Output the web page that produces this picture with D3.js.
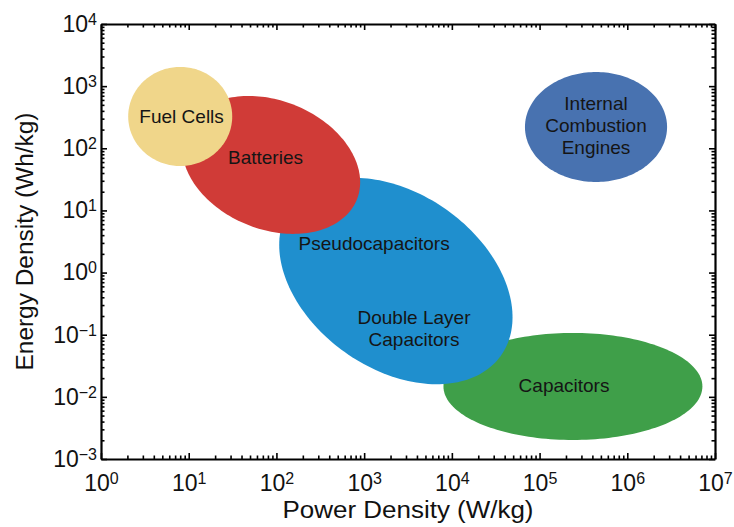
<!DOCTYPE html>
<html>
<head>
<meta charset="utf-8">
<script src="https://cdn.jsdelivr.net/npm/d3@7"></script>
<style>
  html, body { margin: 0; padding: 0; background: #fff; }
  svg { display: block; font-family: "Liberation Sans", Arial, Helvetica, sans-serif; }
</style>
</head>
<body>
<svg id="chart" width="734" height="527"></svg>
<script>
// Ragone plot: energy density vs power density of storage technologies (log–log)

// Axis decades
const powerDecades = [0, 1, 2, 3, 4, 5, 6, 7];      // 10^0 … 10^7 W/kg
const energyDecades = [-3, -2, -1, 0, 1, 2, 3, 4];  // 10^-3 … 10^4 Wh/kg

// Regions, drawn back to front
const regionNames = ["Capacitors", "Electrochemical Capacitors", "Batteries", "Fuel Cells", "Internal Combustion Engines"];
const regionPower = [2.4e5, 2.3e3, 87, 8, 4.4e5];        // centre, W/kg
const regionEnergy = [0.0147, 0.73, 54, 325, 220];       // centre, Wh/kg
const regionPowerSpan = [1.476, 1.33, 1.015, 0.593, 0.81];  // half-width, decades
const regionEnergySpan = [0.861, 1.66, 1.11, 0.797, 0.885]; // half-height, decades
const regionTilt = [0, -0.35, -0.25, 0, 0];              // power/energy correlation
const regionColors = ["#3f9f49", "#1f8fce", "#d03b37", "#f0d68a", "#4872b0"];

// Region labels
const labelLines = [["Fuel Cells"], ["Batteries"], ["Pseudocapacitors"], ["Double Layer", "Capacitors"], ["Capacitors"], ["Internal", "Combustion", "Engines"]];
const labelPower = [8.3, 75, 1300, 3700, 1.9e5, 4.4e5];
const labelEnergy = [332, 72, 3, 0.127, 0.0156, 238];

const svg = d3.select("#chart");
const W = 734, H = 527;
const m = { left: 101, right: 19, top: 24, bottom: 68 };
const x = d3.scaleLog().domain([1, 1e7]).range([m.left, W - m.right]);
const y = d3.scaleLog().domain([1e-3, 1e4]).range([H - m.bottom, m.top]);

// Regions as ellipses in log–log space
const steps = d3.range(0, 180);
const line = d3.line().curve(d3.curveLinearClosed);
regionNames.forEach((name, i) => {
  const lx = Math.log10(regionPower[i]), ly = Math.log10(regionEnergy[i]);
  const sx = regionPowerSpan[i], sy = regionEnergySpan[i], r = regionTilt[i];
  const pts = steps.map(k => {
    const t = k / steps.length * 2 * Math.PI;
    const px = lx + sx * Math.cos(t);
    const py = ly + sy * (r * Math.cos(t) + Math.sqrt(1 - r * r) * Math.sin(t));
    return [x(Math.pow(10, px)), y(Math.pow(10, py))];
  });
  svg.append("path")
    .attr("class", "region")
    .attr("d", line(pts))
    .attr("fill", regionColors[i]);
});

// Region labels
labelLines.forEach((lines, i) => {
  const cx = x(labelPower[i]), cy = y(labelEnergy[i]);
  const t = svg.append("text")
    .attr("text-anchor", "middle")
    .attr("font-size", 19)
    .attr("fill", "#151515");
  lines.forEach((s, j) => {
    t.append("tspan")
      .attr("x", cx)
      .attr("y", cy + (j - (lines.length - 1) / 2) * 22)
      .attr("dy", "0.36em")
      .text(s);
  });
});

// Axes: ticks on all four sides, pointing inward
const minor = decades => decades.slice(0, -1).flatMap(d => d3.range(2, 10).map(k => k * Math.pow(10, d)));
const major = decades => decades.map(d => Math.pow(10, d));

function styleAxis(g) {
  g.selectAll(".domain").attr("stroke", "#000").attr("stroke-width", 2.2);
  g.selectAll(".tick line").attr("stroke", "#000").attr("stroke-width", 1.6);
}

function power10(sel, decades) {
  sel.selectAll(".tick text").each(function (d, i) {
    const t = d3.select(this).text(null).attr("font-size", 23).attr("fill", "#111");
    const e = Math.round(Math.log10(d));
    t.append("tspan").text("10");
    t.append("tspan").attr("font-size", 16).attr("dy", -7).text(String(e).replace("-", "\u2212"));
  });
}

const xb = d3.axisBottom(x).tickValues(major(powerDecades)).tickSizeInner(-6).tickSizeOuter(0).tickPadding(16);
const gxb = svg.append("g").attr("transform", `translate(0,${H - m.bottom})`).call(xb);
gxb.call(power10);
gxb.append("g").call(d3.axisBottom(x).tickValues(minor(powerDecades)).tickSize(-3.5).tickFormat(""))
  .select(".domain").remove();

const gxt = svg.append("g").attr("transform", `translate(0,${m.top})`)
  .call(d3.axisTop(x).tickValues(major(powerDecades)).tickSizeInner(-6).tickSizeOuter(0).tickFormat(""));
gxt.append("g").call(d3.axisTop(x).tickValues(minor(powerDecades)).tickSize(-3.5).tickFormat(""))
  .select(".domain").remove();

const yl = d3.axisLeft(y).tickValues(major(energyDecades)).tickSizeInner(-6).tickSizeOuter(0).tickPadding(4);
const gyl = svg.append("g").attr("transform", `translate(${m.left},0)`).call(yl);
gyl.call(power10);
gyl.append("g").call(d3.axisLeft(y).tickValues(minor(energyDecades)).tickSize(-3.5).tickFormat(""))
  .select(".domain").remove();

const gyr = svg.append("g").attr("transform", `translate(${W - m.right},0)`)
  .call(d3.axisRight(y).tickValues(major(energyDecades)).tickSizeInner(-6).tickSizeOuter(0).tickFormat(""));
gyr.append("g").call(d3.axisRight(y).tickValues(minor(energyDecades)).tickSize(-3.5).tickFormat(""))
  .select(".domain").remove();

[gxb, gxt, gyl, gyr].forEach(styleAxis);
svg.selectAll(".tick text").attr("font-family", "'Liberation Sans', Arial, Helvetica, sans-serif");

// Axis titles
svg.append("text")
  .attr("x", (m.left + W - m.right) / 2)
  .attr("y", 518)
  .attr("text-anchor", "middle")
  .attr("font-size", 23)
  .attr("textLength", 251)
  .attr("lengthAdjust", "spacingAndGlyphs")
  .attr("fill", "#111")
  .text("Power Density (W/kg)");

svg.append("text")
  .attr("transform", `translate(33,${(m.top + H - m.bottom) / 2}) rotate(-90)`)
  .attr("text-anchor", "middle")
  .attr("font-size", 23)
  .attr("textLength", 258)
  .attr("lengthAdjust", "spacingAndGlyphs")
  .attr("fill", "#111")
  .text("Energy Density (Wh/kg)");
</script>
</body>
</html>
